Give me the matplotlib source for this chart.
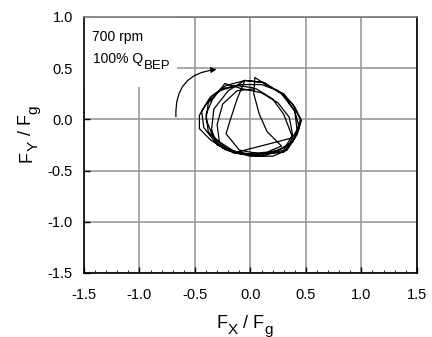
import matplotlib
matplotlib.use("Agg")
import matplotlib.pyplot as plt
from matplotlib.patches import FancyArrowPatch, Rectangle
from matplotlib.ticker import MultipleLocator

plt.rcParams['font.family'] = ['Liberation Sans', 'DejaVu Sans']

# orbit of the radial force, F/Fg
fx = [-0.05, 0.12, 0.28, 0.40, 0.44, 0.38, 0.25, 0.05, -0.15, -0.32, -0.42, -0.44,
      -0.36, -0.22, -0.05, -0.12, -0.18, -0.22, -0.10, 0.10, 0.30, 0.40, 0.45,
      0.38, 0.25, 0.10, -0.08, -0.25, -0.38, -0.46, -0.46, -0.36, -0.22, 0.00,
      0.20, 0.33, 0.42, 0.46, 0.40, 0.30, 0.15, 0.04, 0.03, 0.08, 0.15, 0.28,
      0.15, -0.05, -0.25, -0.38, -0.40, -0.34, -0.23, -0.08, 0.10, 0.25, 0.35,
      0.38, 0.30, 0.10, -0.12, -0.28, -0.30, -0.25, -0.12, 0.05, 0.20, 0.30,
      0.36, 0.38, -0.12, -0.30, -0.35, -0.33, -0.20, -0.05, 0.12, 0.30, 0.40,
      0.42, 0.34, 0.18, 0.00, -0.20, -0.34, -0.40, -0.38, -0.28, -0.12, 0.02]
fy = [0.38, 0.36, 0.25, 0.08, -0.08, -0.22, -0.30, -0.35, -0.33, -0.22, -0.08, 0.08,
      0.22, 0.33, 0.38, 0.20, 0.00, -0.14, -0.30, -0.34, -0.32, -0.18, 0.00,
      0.15, 0.28, 0.34, 0.34, 0.30, 0.18, 0.04, -0.09, -0.20, -0.30, -0.36,
      -0.36, -0.30, -0.15, -0.01, 0.12, 0.25, 0.33, 0.41, 0.25, 0.05, -0.12, -0.26,
      -0.32, -0.34, -0.28, -0.12, 0.05, 0.20, 0.35, 0.30, 0.26, 0.16, 0.02,
      -0.15, -0.30, -0.36, -0.33, -0.22, -0.05, 0.15, 0.28, 0.30, 0.20, 0.05,
      -0.12, -0.18, -0.32, -0.25, -0.10, 0.10, 0.28, 0.38, 0.36, 0.24, 0.08,
      -0.10, -0.26, -0.33, -0.34, -0.30, -0.16, 0.00, 0.16, 0.28, 0.33, 0.31]

ticks = [-1.5, -1.0, -0.5, 0.0, 0.5, 1.0, 1.5]
yticks = [-1.5, -1.0, -0.5, 0.0, 0.5, 1.0]

fig = plt.figure(figsize=(4.32, 3.37), dpi=100)
ax = fig.add_axes([0.1944, 0.19, 0.7706, 0.7596])

ax.plot(fx, fy, color='black', lw=0.9, zorder=3)

ax.set_xlim(-1.5, 1.5)
ax.set_ylim(-1.5, 1.0)
ax.set_xticks(ticks)
ax.set_yticks(yticks)
ax.set_xticklabels(['%.1f' % t for t in ticks])
ax.set_yticklabels(['%.1f' % t for t in yticks])
ax.xaxis.set_minor_locator(MultipleLocator(0.1))
ax.tick_params(which='major', direction='in', length=4, width=1, labelsize=10.5)
ax.tick_params(axis='x', which='major', pad=11)
ax.tick_params(axis='y', which='major', pad=8)
ax.tick_params(which='minor', direction='in', length=2, width=0.6)
ax.grid(True, color='#999999', lw=1.2)
ax.set_axisbelow(True)
for s in ax.spines.values():
    s.set_linewidth(1.2)
ax.spines['top'].set_color('#777777')

# white box behind the annotation
ax.add_patch(Rectangle((-1.5, 0.32), 0.84, 0.68, facecolor='white',
                       edgecolor='none', zorder=1))
ax.text(-1.43, 0.765, '700 rpm', fontsize=10, zorder=4)
t = ax.text(-1.42, 0.55, '100% Q', fontsize=10, zorder=4)
ax.annotate('BEP', xy=(1, 0), xycoords=t, xytext=(0.3, -4.3),
            textcoords='offset points', fontsize=9.5, ha='left', va='bottom',
            zorder=4)

arr = FancyArrowPatch((-0.67, 0.0), (-0.28, 0.49), connectionstyle='arc3,rad=-0.5',
                      arrowstyle='-|>', mutation_scale=8, color='black', lw=0.9,
                      zorder=4)
ax.add_patch(arr)


def chain(first, parts, rot):
    # append pieces after a text, odd ones as big subscripts
    last = first
    size_main, size_sub, drop = 13, 11, 3.6
    for i, p in enumerate(parts):
        sub = (i % 2 == 0)
        fs = size_sub if sub else size_main
        d = -drop if sub else drop
        if rot == 0:
            last = ax.annotate(p, xy=(1, 0), xycoords=last, xytext=(0.3, d),
                               textcoords='offset points', fontsize=fs,
                               ha='left', va='bottom', annotation_clip=False)
        else:
            last = ax.annotate(p, xy=(1, 1), xycoords=last, xytext=(-d, 0.3),
                               textcoords='offset points', fontsize=fs, rotation=90,
                               ha='right', va='bottom', annotation_clip=False)


fxl = fig.text(0.5, 0.0258, 'F', fontsize=13, ha='left', va='baseline')
chain(fxl, ['X', ' / F', 'g'], 0)
fyl = fig.text(0.082, 0.519, 'F', fontsize=13, rotation=90, ha='right', va='bottom')
chain(fyl, ['Y', ' / F', 'g'], 90)

fig.savefig('out.png', dpi=100)
